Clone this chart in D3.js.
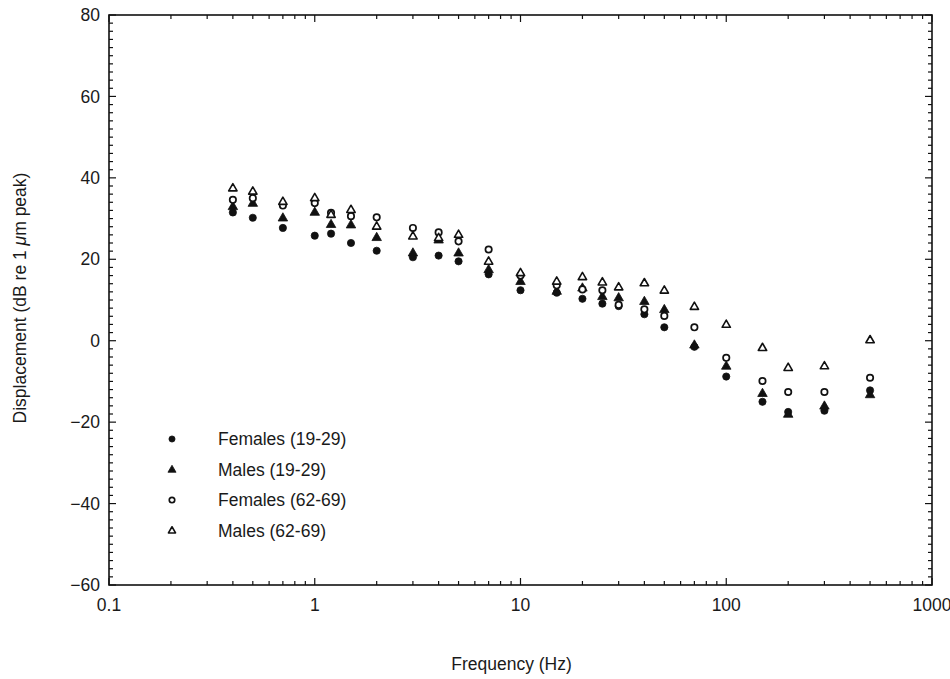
<!DOCTYPE html>
<html>
<head>
<meta charset="utf-8">
<script src="https://cdn.jsdelivr.net/npm/d3@7"></script>
<style>
  body { margin: 0; background: #fff; }
  text { font-family: "Liberation Sans", Arial, sans-serif; fill: #1a1a1a; }
</style>
</head>
<body>
<svg id="chart"></svg>
<script>
// frequencies (Hz)
const freqs = [0.4, 0.5, 0.7, 1, 1.2, 1.5, 2, 3, 4, 5, 7, 10, 15, 20, 25, 30, 40, 50, 70, 100, 150, 200, 300, 500]

// displacement, dB re 1 um peak
const femalesYoung = [31.5, 30.2, 27.7, 25.8, 26.3, 24.0, 22.1, 20.5, 20.9, 19.5, 16.3, 12.4, 11.8, 10.3, 9.1, 8.5, 6.5, 3.3, -1.5, -8.8, -15.0, -17.5, -17.2, -12.2]
const malesYoung = [33.0, 33.8, 30.2, 31.6, 28.6, 28.5, 25.4, 21.6, 24.8, 21.6, 17.5, 14.6, 12.2, 13.0, 10.9, 10.6, 9.7, 7.7, -1.0, -6.2, -12.9, -18.0, -16.0, -13.2]
const femalesOld = [34.6, 35.0, 33.2, 33.8, 31.4, 30.6, 30.3, 27.7, 26.6, 24.4, 22.4, 16.0, 13.6, 12.6, 12.4, 8.8, 7.7, 6.1, 3.3, -4.2, -9.9, -12.6, -12.6, -9.1]
const malesOld = [37.5, 36.7, 34.2, 35.1, 31.0, 32.2, 28.1, 25.7, 25.3, 26.1, 19.5, 16.7, 14.6, 15.7, 14.4, 13.2, 14.2, 12.4, 8.4, 4.0, -1.7, -6.6, -6.2, 0.2]

const xTicks = [0.1, 1, 10, 100, 1000]
const xTickLabels = ['0.1', '1', '10', '100', '1000']
const yTicks = [-60, -40, -20, 0, 20, 40, 60, 80]

const seriesNames = ['Females (19-29)', 'Males (19-29)', 'Females (62-69)', 'Males (62-69)']
const seriesValues = [femalesYoung, malesYoung, femalesOld, malesOld]
const seriesShape = ['circle', 'triangle', 'circle', 'triangle']
const seriesFilled = [true, true, false, false]

const W = 950, H = 679
const margin = { top: 15, right: 18, bottom: 94, left: 109 }
const width = W - margin.left - margin.right
const height = H - margin.top - margin.bottom

const svg = d3.select('#chart').attr('width', W).attr('height', H)
const g = svg.append('g').attr('transform', `translate(${margin.left},${margin.top})`)

const x = d3.scaleLog().domain([0.1, 1000]).range([0, width])
const y = d3.scaleLinear().domain([-60, 80]).range([height, 0])

// minor ticks
const xMinor = []
for (let e = -1; e < 3; e++) for (let m = 2; m <= 9; m++) xMinor.push(m * Math.pow(10, e))
const yMinor = d3.range(-60, 81, 2).filter(v => v % 20 !== 0)

const tickG = g.append('g').attr('stroke', '#111').attr('stroke-width', 1.2)
// bottom / top x ticks
xMinor.forEach(v => {
  tickG.append('line').attr('x1', x(v)).attr('x2', x(v)).attr('y1', height).attr('y2', height - 4)
  tickG.append('line').attr('x1', x(v)).attr('x2', x(v)).attr('y1', 0).attr('y2', 4)
})
xTicks.forEach(v => {
  tickG.append('line').attr('x1', x(v)).attr('x2', x(v)).attr('y1', height).attr('y2', height - 7)
  tickG.append('line').attr('x1', x(v)).attr('x2', x(v)).attr('y1', 0).attr('y2', 7)
})
// left / right y ticks
yMinor.forEach(v => {
  tickG.append('line').attr('x1', 0).attr('x2', 4).attr('y1', y(v)).attr('y2', y(v))
  tickG.append('line').attr('x1', width).attr('x2', width - 4).attr('y1', y(v)).attr('y2', y(v))
})
yTicks.forEach(v => {
  tickG.append('line').attr('x1', 0).attr('x2', 7).attr('y1', y(v)).attr('y2', y(v))
  tickG.append('line').attr('x1', width).attr('x2', width - 7).attr('y1', y(v)).attr('y2', y(v))
})

// frame
g.append('rect')
  .attr('x', 0).attr('y', 0).attr('width', width).attr('height', height)
  .attr('fill', 'none').attr('stroke', '#111').attr('stroke-width', 1.6)

// tick labels
g.append('g').selectAll('text')
  .data(xTicks)
  .enter()
  .append('text')
  .attr('x', d => x(d))
  .attr('y', height + 26)
  .attr('text-anchor', 'middle')
  .style('font-size', '17.5px')
  .text((d, i) => xTickLabels[i])

g.append('g').selectAll('text')
  .data(yTicks)
  .enter()
  .append('text')
  .attr('x', -9)
  .attr('y', d => y(d))
  .attr('dy', '0.35em')
  .attr('text-anchor', 'end')
  .style('font-size', '17.5px')
  .text(d => d < 0 ? '\u2212' + Math.abs(d) : d)

// axis titles
svg.append('text')
  .attr('x', margin.left + width / 2 - 9)
  .attr('y', 670)
  .attr('text-anchor', 'middle')
  .style('font-size', '17.5px')
  .text('Frequency (Hz)')

const yTitle = svg.append('text')
  .attr('transform', `translate(26, ${margin.top + height / 2 - 2}) rotate(-90)`)
  .attr('text-anchor', 'middle')
  .style('font-size', '17.5px')
yTitle.append('tspan').text('Displacement (dB re 1 ')
yTitle.append('tspan').style('font-style', 'italic').text('\u03bc')
yTitle.append('tspan').text('m peak)')

// markers
const triPath = s => `M0,${-s}L${s * 0.95},${s * 0.65}L${-s * 0.95},${s * 0.65}Z`

function drawMarker(sel, shape, filled, k) {
  if (shape === 'circle') {
    sel.append('circle')
      .attr('r', (filled ? 3.6 : 3.2) * k)
      .attr('fill', filled ? '#111' : '#fff')
      .attr('stroke', '#111')
      .attr('stroke-width', filled ? 0.8 : 1.7)
  } else {
    sel.append('path')
      .attr('d', triPath((filled ? 5 : 4.4) * k))
      .attr('fill', filled ? '#111' : '#fff')
      .attr('stroke', '#111')
      .attr('stroke-width', filled ? 0.8 : 1.6)
      .attr('stroke-linejoin', 'round')
  }
}

seriesValues.forEach((vals, si) => {
  const pts = g.append('g').selectAll('g')
    .data(freqs.map((f, i) => ({ f: f, v: vals[i] })))
    .enter()
    .append('g')
    .attr('transform', d => `translate(${x(d.f)},${y(d.v)})`)
  drawMarker(pts, seriesShape[si], seriesFilled[si], 1)
})

// legend
const legend = svg.append('g')
seriesNames.forEach((name, i) => {
  const row = legend.append('g').attr('transform', `translate(172, ${439 + i * 30.5})`)
  drawMarker(row, seriesShape[i], seriesFilled[i], 0.85)
  row.append('text')
    .attr('x', 46)
    .attr('dy', '0.35em')
    .style('font-size', '17.5px')
    .text(name)
})
</script>
</body>
</html>
